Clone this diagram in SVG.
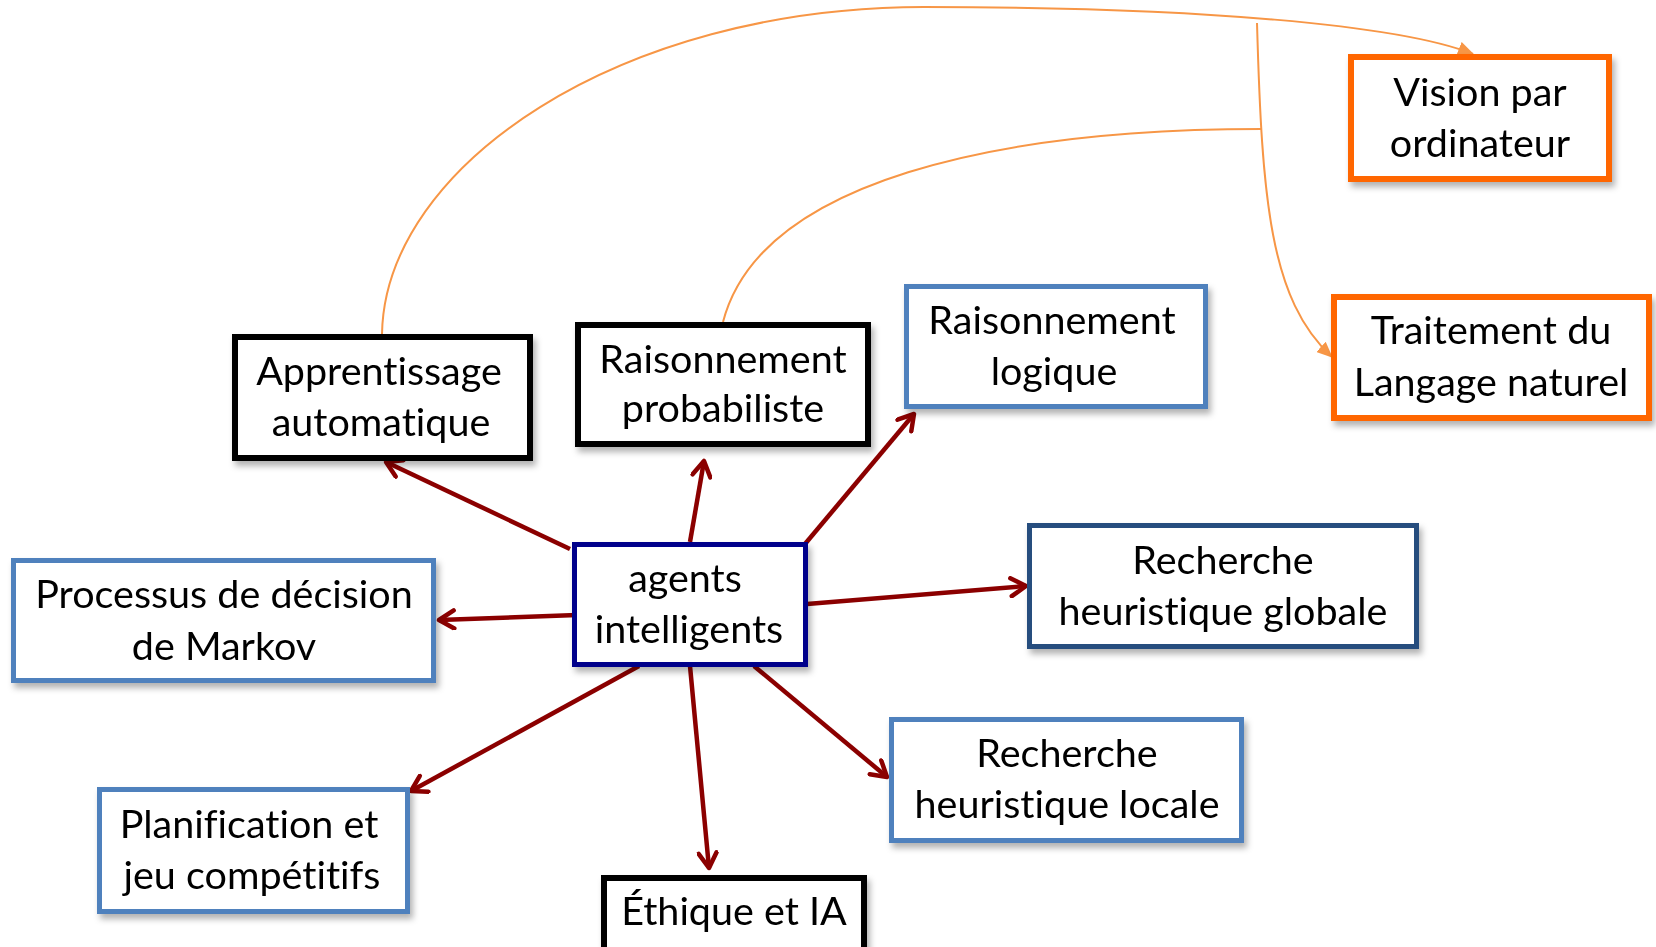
<svg xmlns="http://www.w3.org/2000/svg" width="1656" height="947" viewBox="0 0 1656 947">
<style>
.box{fill:#fff}
.blk{stroke:#000;stroke-width:6}
.blu{stroke:#4F81BD;stroke-width:5}
.dbl{stroke:#264D7E;stroke-width:5}
.nav{stroke:#00008B;stroke-width:5}
.org{stroke:#FF6600;stroke-width:6}
.t{font-family:Lato,"Liberation Sans",sans-serif;font-size:39.5px;fill:#000;text-anchor:middle;font-variant-ligatures:none}
.red{stroke:#8B0000;stroke-width:4.5;fill:none;marker-end:url(#ar)}
.orl{stroke:#F79646;stroke-width:2;fill:none;marker-end:url(#ao)}
.orn{stroke:#F79646;stroke-width:2;fill:none}
</style>
<defs>
<filter id="sh" x="-10%" y="-10%" width="130%" height="140%">
<feDropShadow dx="3" dy="5" stdDeviation="3" flood-color="#000" flood-opacity="0.3"/>
</filter>
<marker id="ar" viewBox="0 0 22 22" markerWidth="22" markerHeight="22" refX="19" refY="11" orient="auto" markerUnits="userSpaceOnUse">
<path d="M4,2 L19,11 L4,20" fill="none" stroke="#8B0000" stroke-width="4.5" stroke-linecap="round" stroke-linejoin="round"/>
</marker>
<marker id="ao" viewBox="0 0 16 14" markerWidth="16" markerHeight="14" refX="15" refY="7" orient="auto" markerUnits="userSpaceOnUse">
<path d="M0,0 L16,7 L0,14 Z" fill="#F79646"/>
</marker>
</defs>

<g id="connectors">
<path class="orl" d="M382,334 C385,165 620,7 924,7 C1200,7 1400,25 1473,54"/>
<path class="orn" d="M723,322 C760,180 1000,129 1262,129"/>
<path class="orl" d="M1257,23 C1262,200 1270,300 1332,357"/>
<line class="red" x1="570" y1="549" x2="386" y2="462"/>
<line class="red" x1="690" y1="542" x2="704" y2="461"/>
<line class="red" x1="805" y1="544" x2="914" y2="414"/>
<line class="red" x1="807" y1="604" x2="1026" y2="586"/>
<line class="red" x1="577" y1="615" x2="439" y2="620"/>
<line class="red" x1="639" y1="666" x2="411" y2="791"/>
<line class="red" x1="690" y1="666" x2="709" y2="868"/>
<line class="red" x1="754" y1="666" x2="887" y2="777"/>
</g>

<g id="apprentissage" filter="url(#sh)">
<rect class="box blk" x="235" y="337" width="295" height="121"/>
<text class="t" x="379" y="385">Apprentissage</text>
<text class="t" x="381" y="436">automatique</text>
</g>
<g id="probabiliste" filter="url(#sh)">
<rect class="box blk" x="578" y="325" width="290" height="119"/>
<text class="t" x="723" y="373">Raisonnement</text>
<text class="t" x="723" y="422">probabiliste</text>
</g>
<g id="logique" filter="url(#sh)">
<rect class="box blu" x="906.5" y="286.5" width="299" height="120"/>
<text class="t" x="1052" y="334">Raisonnement</text>
<text class="t" x="1054" y="385">logique</text>
</g>
<g id="vision" filter="url(#sh)">
<rect class="box org" x="1351" y="57" width="258" height="122"/>
<text class="t" x="1480" y="106">Vision par</text>
<text class="t" x="1480" y="157">ordinateur</text>
</g>
<g id="traitement" filter="url(#sh)">
<rect class="box org" x="1334" y="297" width="315" height="121"/>
<text class="t" x="1491" y="344">Traitement du</text>
<text class="t" x="1491" y="396">Langage naturel</text>
</g>
<g id="agents" filter="url(#sh)">
<rect class="box nav" x="574.5" y="544.5" width="231" height="120"/>
<text class="t" x="685" y="592">agents</text>
<text class="t" x="689" y="643">intelligents</text>
</g>
<g id="globale" filter="url(#sh)">
<rect class="box dbl" x="1029.5" y="525.5" width="387" height="121"/>
<text class="t" x="1223" y="574">Recherche</text>
<text class="t" x="1223" y="625">heuristique globale</text>
</g>
<g id="markov" filter="url(#sh)">
<rect class="box blu" x="13.5" y="560.5" width="420" height="120"/>
<text class="t" x="224" y="608">Processus de décision</text>
<text class="t" x="224" y="660">de Markov</text>
</g>
<g id="planification" filter="url(#sh)">
<rect class="box blu" x="99.5" y="789.5" width="308" height="122"/>
<text class="t" x="249" y="838">Planification et</text>
<text class="t" x="252" y="889">jeu compétitifs</text>
</g>
<g id="locale" filter="url(#sh)">
<rect class="box blu" x="891.5" y="719.5" width="350" height="121"/>
<text class="t" x="1067" y="767">Recherche</text>
<text class="t" x="1067" y="818">heuristique locale</text>
</g>
<g id="ethique" filter="url(#sh)">
<rect class="box blk" x="604" y="878" width="260" height="100"/>
<text class="t" x="734" y="925">Éthique et IA</text>
</g>
</svg>
